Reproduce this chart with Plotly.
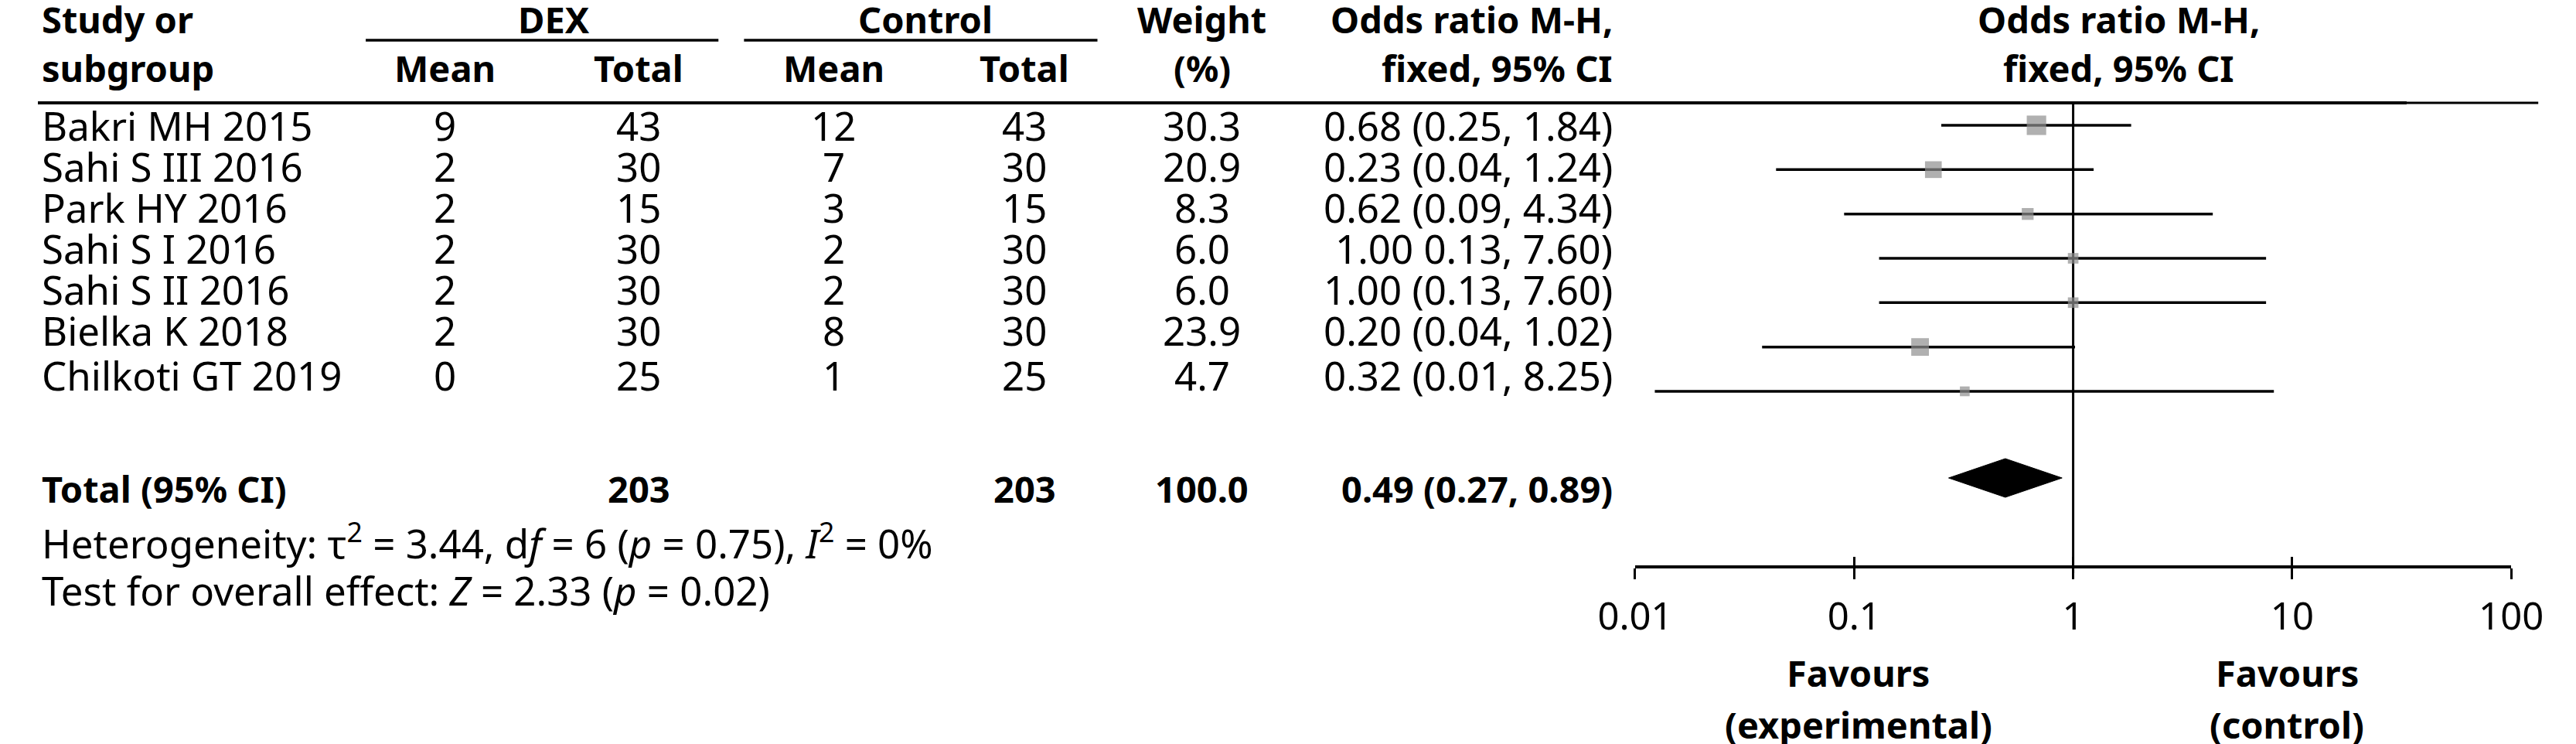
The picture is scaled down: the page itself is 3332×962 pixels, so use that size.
import plotly.graph_objects as go

# ---------------- data ----------------
studies = ["Bakri MH 2015", "Sahi S III 2016", "Park HY 2016", "Sahi S I 2016",
           "Sahi S II 2016", "Bielka K 2018", "Chilkoti GT 2019"]
dex_mean = [9, 2, 2, 2, 2, 2, 0]
dex_total = [43, 30, 15, 30, 30, 30, 25]
ctrl_mean = [12, 7, 3, 2, 2, 8, 1]
ctrl_total = [43, 30, 15, 30, 30, 30, 25]
weight = [30.3, 20.9, 8.3, 6.0, 6.0, 23.9, 4.7]
odds_ratio = [0.68, 0.23, 0.62, 1.00, 1.00, 0.20, 0.32]
ci_low = [0.25, 0.044, 0.09, 0.13, 0.13, 0.038, 0.0123]
ci_high = [1.84, 1.24, 4.34, 7.60, 7.60, 1.02, 8.25]
or_labels = ["0.68 (0.25, 1.84)", "0.23 (0.04, 1.24)", "0.62 (0.09, 4.34)",
             "1.00 0.13, 7.60)", "1.00 (0.13, 7.60)", "0.20 (0.04, 1.02)",
             "0.32 (0.01, 8.25)"]

total_dex = 203
total_ctrl = 203
total_weight = "100.0"
total_or = 0.49
total_low = 0.27
total_high = 0.89
total_label = "0.49 (0.27, 0.89)"

tick_vals = [0.01, 0.1, 1, 10, 100]
tick_labels = ["0.01", "0.1", "1", "10", "100"]

# ---------------- layout constants (pixels) ----------------
W, H = 3332, 962
FONT = "Noto Sans"
FS = 51
FS_BOLD = 47
FS_TICK = 49
TEXT_ROWS = [162, 215, 268, 321, 374, 427, 485]
FOREST_ROWS = [162 + 57.33 * i for i in range(len(studies))]
TOTAL_TEXT_Y = 632
DIAMOND_Y = 618
DIAMOND_HALF = 25
HET_Y, TEST_Y = 700, 763
AXIS_Y = 733
X_AXIS_LEFT, X_AXIS_RIGHT = 2124, 3289

COL_STUDY = 3
COL_DEX_MEAN, COL_DEX_TOTAL = 541, 799
COL_CTRL_MEAN, COL_CTRL_TOTAL = 1058, 1312
COL_WEIGHT = 1548
COL_OR_RIGHT = 2096

fig = go.Figure()

# CI lines
cx, cy = [], []
for lo, hi, y in zip(ci_low, ci_high, FOREST_ROWS):
    cx += [lo, hi, None]
    cy += [y, y, None]
fig.add_trace(go.Scatter(x=cx, y=cy, mode="lines", line=dict(color="black", width=3.5),
                         xaxis="x", yaxis="y", hoverinfo="skip", showlegend=False))

# vertical line of no effect
fig.add_trace(go.Scatter(x=[1, 1], y=[134, 741], mode="lines",
                         line=dict(color="black", width=3),
                         xaxis="x", yaxis="y", hoverinfo="skip", showlegend=False))

# squares (size grows with study weight)
sizes = [4.5 + 3.75 * w ** 0.5 for w in weight]
fig.add_trace(go.Scatter(x=odds_ratio, y=FOREST_ROWS, mode="markers",
                         marker=dict(symbol="square", size=sizes, color="#8f8f8f",
                                     line=dict(width=0)),
                         xaxis="x", yaxis="y", hoverinfo="skip", showlegend=False))

# pooled diamond
fig.add_trace(go.Scatter(x=[total_low, total_or, total_high, total_or, total_low],
                         y=[DIAMOND_Y, DIAMOND_Y - DIAMOND_HALF, DIAMOND_Y,
                            DIAMOND_Y + DIAMOND_HALF, DIAMOND_Y],
                         mode="lines", fill="toself", fillcolor="black",
                         line=dict(color="black", width=1),
                         xaxis="x", yaxis="y", hoverinfo="skip", showlegend=False))

# invisible trace for the overlay tick axis (ticks crossing the axis line)
fig.add_trace(go.Scatter(x=[1], y=[AXIS_Y], mode="markers", marker=dict(opacity=0),
                         xaxis="x3", yaxis="y", hoverinfo="skip", showlegend=False))

# table rules (pixel axis x2)
rules = [
    ((0, 3150), 133, 4),
    ((3150, 3325), 133, 3),
    ((436, 905), 52, 3.5),
    ((939, 1409), 52, 3.5),
]
for (x0, x1), y, w in rules:
    fig.add_trace(go.Scatter(x=[x0, x1], y=[y, y], mode="lines",
                             line=dict(color="black", width=w),
                             xaxis="x2", yaxis="y", hoverinfo="skip", showlegend=False))

ann = []


def txt(x, y, s, anchor="center", bold=False):
    ann.append(dict(x=x, y=y, xref="x2", yref="y", text=("<b>%s</b>" % s) if bold else s,
                    showarrow=False, xanchor=anchor, yanchor="middle",
                    font=dict(family=FONT, size=FS_BOLD if bold else FS, color="black")))


# headers
H1, H2 = 25, 88
txt(COL_STUDY, H1, "Study or", "left", True)
txt(COL_STUDY, H2, "subgroup", "left", True)
txt(686, H1, "DEX", bold=True)
txt(1180, H1, "Control", bold=True)
txt(COL_DEX_MEAN, H2, "Mean", bold=True)
txt(COL_DEX_TOTAL, H2, "Total", bold=True)
txt(COL_CTRL_MEAN, H2, "Mean", bold=True)
txt(COL_CTRL_TOTAL, H2, "Total", bold=True)
txt(COL_WEIGHT, H1, "Weight", bold=True)
txt(COL_WEIGHT, H2, "(%)", bold=True)
txt(COL_OR_RIGHT, H1, "Odds ratio M-H,", "right", True)
txt(COL_OR_RIGHT, H2, "fixed, 95% CI", "right", True)
txt(2767, H1, "Odds ratio M-H,", bold=True)
txt(2767, H2, "fixed, 95% CI", bold=True)

# body
for i, s in enumerate(studies):
    y = TEXT_ROWS[i]
    txt(COL_STUDY, y, s, "left")
    txt(COL_DEX_MEAN, y, str(dex_mean[i]))
    txt(COL_DEX_TOTAL, y, str(dex_total[i]))
    txt(COL_CTRL_MEAN, y, str(ctrl_mean[i]))
    txt(COL_CTRL_TOTAL, y, str(ctrl_total[i]))
    txt(COL_WEIGHT, y, "%.1f" % weight[i])
    txt(COL_OR_RIGHT, y, or_labels[i], "right")

# totals
txt(COL_STUDY, TOTAL_TEXT_Y, "Total (95% CI)", "left", True)
txt(COL_DEX_TOTAL, TOTAL_TEXT_Y, str(total_dex), bold=True)
txt(COL_CTRL_TOTAL, TOTAL_TEXT_Y, str(total_ctrl), bold=True)
txt(COL_WEIGHT, TOTAL_TEXT_Y, total_weight, bold=True)
txt(COL_OR_RIGHT, TOTAL_TEXT_Y, total_label, "right", True)
txt(COL_STUDY, HET_Y,
    "Heterogeneity: τ<sup>2</sup> = 3.44, d<i>f</i> = 6 (<i>p</i> = 0.75), <i>I</i><sup>2</sup> = 0%",
    "left")
txt(COL_STUDY, TEST_Y, "Test for overall effect: <i>Z</i> = 2.33 (<i>p</i> = 0.02)", "left")

# favours
txt(2421, 870, "Favours", bold=True)
txt(2421, 937, "(experimental)", bold=True)
txt(2991, 870, "Favours", bold=True)
txt(2991, 937, "(control)", bold=True)

axis_pos = 1 - AXIS_Y / H
dom = [X_AXIS_LEFT / W, X_AXIS_RIGHT / W]
common_x = dict(type="log", range=[-2, 2], domain=dom, anchor="free", position=axis_pos,
                showgrid=False, zeroline=False, fixedrange=True)

fig.update_layout(
    width=W, height=H,
    margin=dict(l=0, r=0, t=0, b=0),
    paper_bgcolor="white", plot_bgcolor="rgba(0,0,0,0)",
    showlegend=False,
    font=dict(family=FONT, size=FS, color="black"),
    xaxis=dict(**common_x, showline=True, linewidth=3.5, linecolor="black",
               ticks="outside", ticklen=14, tickwidth=3, tickcolor="black",
               tickvals=tick_vals, ticktext=tick_labels, ticklabeloverflow="allow",
               ticklabelstandoff=6,
               tickfont=dict(family=FONT, size=FS_TICK, color="black")),
    xaxis3=dict(**common_x, overlaying="x", showline=False,
                ticks="inside", ticklen=13, tickwidth=3, tickcolor="black",
                tickvals=tick_vals, showticklabels=False),
    xaxis2=dict(range=[0, W], domain=[0, 1], visible=False, anchor="y", fixedrange=True),
    yaxis=dict(range=[H, 0], domain=[0, 1], visible=False, anchor="x2", fixedrange=True),
    annotations=ann,
)

post = (
    "document.documentElement.style.overflow='hidden';"
    "document.body.style.margin='0';document.body.style.overflow='hidden';"
    "var g=document.querySelector('.plotly-graph-div');"
    "if(g){g.style.overflow='hidden';g.style.width='3332px';g.style.height='962px';}"
    "document.querySelectorAll('svg.main-svg').forEach(function(s){s.style.overflow='hidden';});"
)
fig.write_html("out.html", config={"displayModeBar": False}, post_script=post)
